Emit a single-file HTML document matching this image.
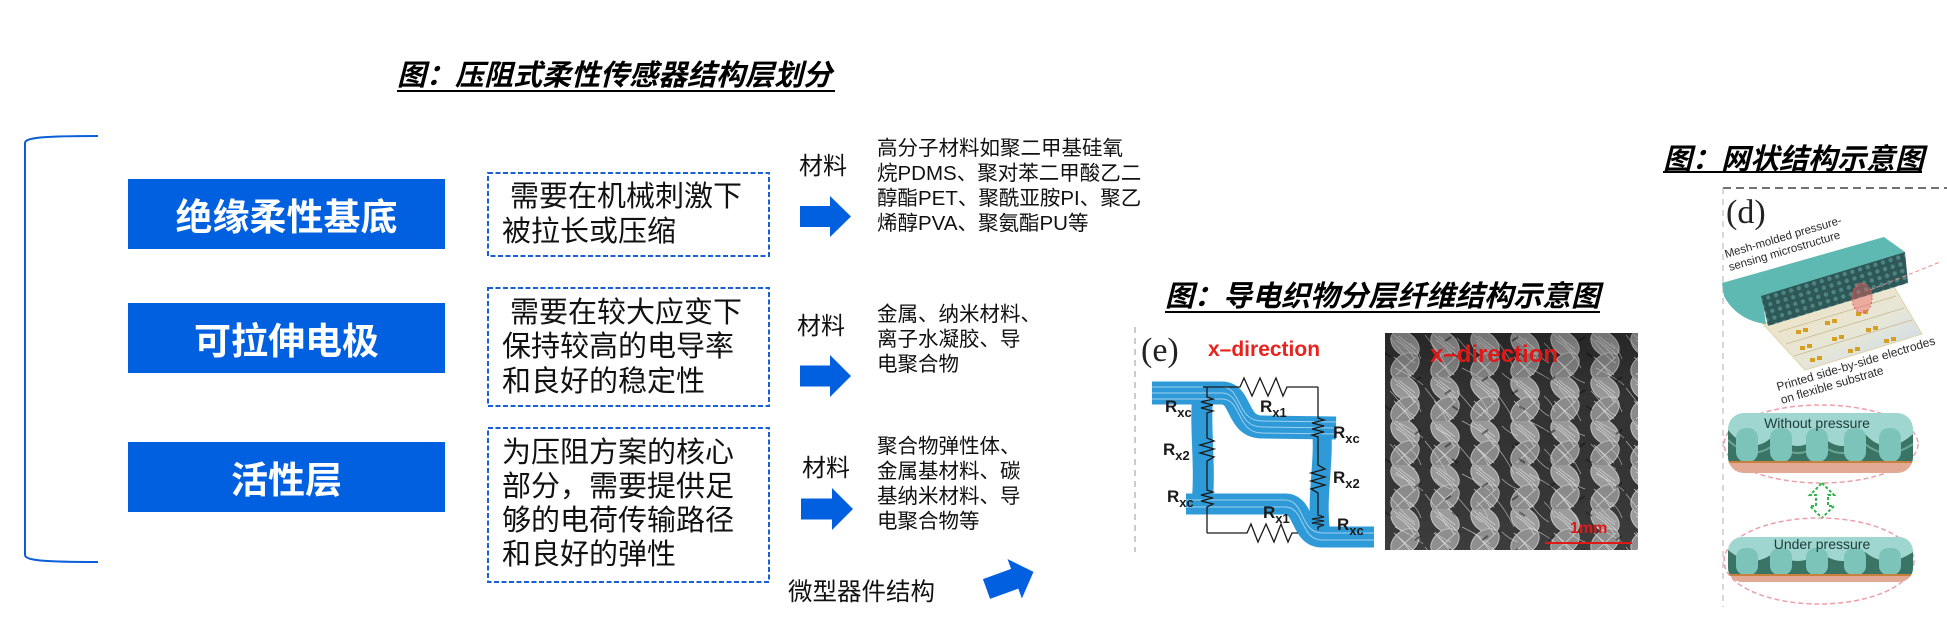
<!DOCTYPE html>
<html><head><meta charset="utf-8">
<style>
html,body{margin:0;padding:0;}
body{width:1947px;height:622px;overflow:hidden;background:#fff;position:relative;font-family:"Liberation Sans","Noto Sans CJK SC",sans-serif;}
.t{position:absolute;white-space:nowrap;font-family:"Liberation Sans","Noto Sans CJK SC",sans-serif;color:#111;}
.ttl{font-size:29px;line-height:29px;font-weight:bold;font-style:italic;color:#000;}
.ul{position:absolute;height:2px;background:#000;}
.bx{position:absolute;left:128px;width:317px;height:70px;background:#0060df;color:#fff;font-weight:bold;font-size:37px;display:flex;align-items:center;justify-content:center;font-family:"Liberation Sans","Noto Sans CJK SC",sans-serif;}
.d{font-size:29px;line-height:34px;}
.m{font-size:24px;line-height:26px;}
.mt{font-size:20.5px;line-height:25px;left:877px;}
</style></head><body>
<svg width="1947" height="622" style="position:absolute;left:0;top:0" xmlns="http://www.w3.org/2000/svg">
<defs>
<pattern id="sem" x="1385" y="333" width="40" height="44" patternUnits="userSpaceOnUse">
<rect width="40" height="44" fill="#333"/>
<ellipse cx="20" cy="11" rx="16" ry="11" transform="rotate(40 20 11)" fill="#9a9a9a" stroke="#c4c4c4" stroke-width="1"/>
<ellipse cx="20" cy="33" rx="16" ry="11" transform="rotate(-40 20 33)" fill="#8a8a8a" stroke="#bdbdbd" stroke-width="1"/>
<path d="M9,2 C16,8 24,14 31,21 M11,7 C18,12 24,16 29,25 M9,24 C16,30 22,36 29,42 M31,24 C24,30 18,36 11,42 M13,28 C18,32 22,38 26,43 M14,3 C20,9 26,12 30,16" stroke="#d6d6d6" stroke-width="0.8" fill="none"/>
</pattern>
<pattern id="fib" x="1385" y="333" width="67" height="53" patternUnits="userSpaceOnUse">
<path d="M5,5 C15,15 20,25 30,30 M40,2 C48,12 55,20 62,35 M10,35 C20,40 30,45 38,52 M50,40 C55,45 60,48 66,50 M25,10 C30,14 34,20 36,26" stroke="#e0e0e0" stroke-width="0.7" fill="none" opacity="0.7"/>
<path d="M0,20 L6,24 M60,8 L66,4 M30,48 L36,44" stroke="#111" stroke-width="2" opacity="0.5"/>
</pattern>
<linearGradient id="sub" x1="0" y1="0" x2="1" y2="1">
<stop offset="0" stop-color="#f2e2bd"/><stop offset="0.6" stop-color="#e6e6d8"/><stop offset="1" stop-color="#bcd8f2"/>
</linearGradient>
<linearGradient id="semfade" x1="0" y1="0" x2="0" y2="1">
<stop offset="0" stop-color="#000" stop-opacity="0.25"/><stop offset="0.3" stop-color="#000" stop-opacity="0"/><stop offset="1" stop-color="#fff" stop-opacity="0.05"/>
</linearGradient>
<pattern id="mesh" width="8" height="7" patternUnits="userSpaceOnUse" patternTransform="rotate(-17)">
<rect width="8" height="7" fill="#2d5857"/>
<circle cx="4" cy="3.5" r="2.2" fill="#4d8481"/>
</pattern>
<clipPath id="c1"><rect x="1728" y="413" width="185" height="60" rx="16"/></clipPath>
<clipPath id="c2"><rect x="1728" y="537" width="185" height="45" rx="14"/></clipPath>
</defs>

<!-- bracket -->
<path d="M98,136 C50,136 25,137 25,143 L25,555 C25,561 50,562 98,562" fill="none" stroke="#0a5fd8" stroke-width="2"/>

<!-- dashed boxes -->
<g fill="none" stroke="#1760d6" stroke-width="2" stroke-dasharray="5 2.5">
<rect x="488" y="173" width="281" height="83"/>
<rect x="488" y="288" width="281" height="118"/>
<rect x="488" y="428" width="281" height="154"/>
</g>

<!-- arrows -->
<g fill="#0060df">
<polygon points="800,206 830,206 830,196 851,216.5 830,237 830,227 800,227"/>
<polygon points="800,365.5 830,365.5 830,355 851,376 830,397 830,386.5 800,386.5"/>
<polygon points="801,498.5 832,498.5 832,488 853,509 832,530 832,519.5 801,519.5"/>
<polygon transform="translate(986.5,589) rotate(-20)" points="0,-10.5 30,-10.5 30,-21 50,0 30,21 30,10.5 0,10.5"/>
</g>

<!-- (e) panel -->
<line x1="1135" y1="327" x2="1135" y2="552" stroke="#9a9a9a" stroke-dasharray="6 5" stroke-width="1"/>
<g fill="none" stroke="#2e9ad8" stroke-linecap="butt">
<path d="M1152,393 L1222,393 C1242,393 1236,427 1262,427 L1336,428" stroke-width="23"/>
<path d="M1203,392 C1199,430 1207,470 1201,512" stroke-width="21"/>
<path d="M1186,504 L1285,504 C1305,504 1300,537 1322,537 L1374,537" stroke-width="21"/>
<path d="M1321,425 C1326,460 1314,500 1322,540" stroke-width="19"/>
</g>
<g fill="none" stroke="#9fd0ee" stroke-width="1">
<path d="M1152,387 L1222,387 C1242,387 1236,421 1262,421 L1336,422"/>
<path d="M1152,393 L1222,393 C1242,393 1236,427 1262,427 L1336,428"/>
<path d="M1152,399 L1222,399 C1242,399 1236,433 1262,433 L1336,434"/>
<path d="M1186,500 L1285,500 C1305,500 1300,533 1322,533 L1374,533"/>
<path d="M1186,507 L1285,507 C1305,507 1300,540 1322,540 L1374,540"/>
</g>
<g fill="none" stroke="#1a1a1a" stroke-width="1.3" stroke-linejoin="miter">
<path d="M1203,387 L1240,387 L1244,378 L1252,396 L1260,378 L1268,396 L1276,378 L1283,396 L1287,387 L1318,387"/>
<path d="M1207,533 L1247,533 L1251,524 L1258,542 L1266,524 L1274,542 L1281,524 L1288,542 L1292,533 L1298,533"/>
<path d="M1207,387 L1207,397 L1213,399 L1201,402 L1213,405 L1201,408 L1213,411 L1207,413 L1207,438 L1214,441 L1200,445 L1214,449 L1200,453 L1214,457 L1207,461 L1207,490 L1213,492 L1201,495 L1213,498 L1201,501 L1213,504 L1207,507 L1207,533"/>
<path d="M1318,387 L1318,418 L1324,420 L1312,423 L1324,426 L1312,429 L1324,432 L1312,435 L1318,437 L1318,465 L1325,469 L1311,473 L1325,477 L1311,481 L1325,485 L1311,489 L1318,493 L1318,515 L1324,517 L1312,519 L1324,521 L1312,523 L1324,525 L1318,527 L1318,530"/>
</g>
<g font-family="Liberation Sans, sans-serif" font-weight="bold" font-size="17" fill="#1a1a1a">
<text x="1165" y="412">R<tspan font-size="13" dy="5">xc</tspan></text>
<text x="1260" y="412">R<tspan font-size="13" dy="5">x1</tspan></text>
<text x="1333" y="438">R<tspan font-size="13" dy="5">xc</tspan></text>
<text x="1163" y="455">R<tspan font-size="13" dy="5">x2</tspan></text>
<text x="1333" y="483">R<tspan font-size="13" dy="5">x2</tspan></text>
<text x="1167" y="502">R<tspan font-size="13" dy="5">xc</tspan></text>
<text x="1263" y="518">R<tspan font-size="13" dy="5">x1</tspan></text>
<text x="1337" y="530">R<tspan font-size="13" dy="5">xc</tspan></text>
</g>
<text x="1141" y="361" font-family="Liberation Serif, serif" font-size="34" fill="#222">(e)</text>
<text x="1208" y="356" font-family="Liberation Sans, sans-serif" font-weight="bold" font-size="21" fill="#e8231f">x–direction</text>

<!-- SEM image -->
<rect x="1385" y="333" width="253" height="217" fill="url(#sem)"/>
<rect x="1385" y="333" width="253" height="217" fill="url(#fib)"/>
<rect x="1385" y="333" width="253" height="217" fill="url(#semfade)"/>
<text x="1430" y="362" font-family="Liberation Sans, sans-serif" font-weight="bold" font-size="24" fill="#e01818">x–direction</text>
<text x="1570" y="533" font-family="Liberation Sans, sans-serif" font-weight="bold" font-size="16" fill="#e01818">1mm</text>
<line x1="1545" y1="543" x2="1632" y2="543" stroke="#e01818" stroke-width="2"/>

<!-- (d) panel -->
<line x1="1723" y1="188" x2="1947" y2="188" stroke="#444" stroke-dasharray="8 5" stroke-width="1.5"/>
<line x1="1723" y1="188" x2="1723" y2="607" stroke="#b0b0b0" stroke-dasharray="6 5" stroke-width="1"/>
<text x="1726" y="223" font-family="Liberation Serif, serif" font-size="34" fill="#222">(d)</text>

<polygon points="1763,324 1893,285 1922,334 1805,370" fill="url(#sub)" stroke="#e3d2a8" stroke-width="1"/>
<g stroke="#c9b98f" stroke-width="0.8" fill="none">
<path d="M1778,332 L1896,296 M1786,344 L1904,308 M1794,356 L1912,320"/>
</g>
<g fill="#d4a020">
<rect x="1796" y="330" width="5" height="4"/><rect x="1803" y="328" width="5" height="4"/>
<rect x="1825" y="321" width="5" height="4"/><rect x="1832" y="319" width="5" height="4"/>
<rect x="1856" y="312" width="5" height="4"/><rect x="1863" y="310" width="5" height="4"/>
<rect x="1800" y="346" width="5" height="4"/><rect x="1807" y="344" width="5" height="4"/>
<rect x="1832" y="337" width="5" height="4"/><rect x="1839" y="335" width="5" height="4"/>
<rect x="1866" y="328" width="5" height="4"/><rect x="1873" y="326" width="5" height="4"/>
<rect x="1810" y="358" width="5" height="4"/><rect x="1817" y="356" width="5" height="4"/>
<rect x="1848" y="349" width="5" height="4"/><rect x="1855" y="347" width="5" height="4"/>
<rect x="1884" y="339" width="5" height="4"/><rect x="1891" y="337" width="5" height="4"/>
</g>
<path d="M1722,283 L1884,237 L1905,252 L1762,296 L1766,324 C1748,322 1732,312 1724,296 Z" fill="#5fb9b3"/>
<polygon points="1761,296 1905,252 1908,283 1768,326" fill="url(#mesh)"/>
<ellipse cx="1862" cy="298" rx="10" ry="15" fill="rgba(238,100,100,0.45)" stroke="#e05a5a" stroke-dasharray="2 2" stroke-width="1"/>
<line x1="1870" y1="290" x2="1940" y2="262" stroke="#e88a8a" stroke-dasharray="4 3" stroke-width="1"/>
<g font-family="Liberation Sans, sans-serif" fill="#2a2a2a">
<text font-size="11.5" transform="translate(1726,258) rotate(-16.5)">Mesh-molded pressure-</text>
<text font-size="11.5" transform="translate(1730,271) rotate(-16.5)">sensing microstructure</text>
<text font-size="12" transform="translate(1778,391) rotate(-16.5)">Printed side-by-side electrodes</text>
<text font-size="12" transform="translate(1782,404) rotate(-16.5)">on flexible substrate</text>
</g>

<!-- without pressure -->
<ellipse cx="1821" cy="444" rx="97" ry="39" fill="none" stroke="#ec9faa" stroke-dasharray="5 3" stroke-width="1.5"/>
<g clip-path="url(#c1)">
<rect x="1728" y="413" width="185" height="60" fill="#9fd6cf"/>
<path d="M1728,430 C1745,450 1760,450 1775,434 C1790,450 1805,450 1820,434 C1835,450 1850,450 1865,434 C1880,450 1895,450 1913,434 L1913,462 L1728,462 Z" fill="#3a7465"/>
<path d="M1728,440 C1745,456 1760,456 1775,444 C1790,456 1805,456 1820,444 C1835,456 1850,456 1865,444 C1880,456 1895,456 1913,444" fill="none" stroke="#6aa596" stroke-width="2"/>
<g fill="#7cc4ba">
<rect x="1736" y="428" width="22" height="34" rx="10"/>
<rect x="1770" y="428" width="22" height="34" rx="10"/>
<rect x="1806" y="428" width="22" height="34" rx="10"/>
<rect x="1844" y="428" width="22" height="34" rx="10"/>
<rect x="1879" y="428" width="22" height="34" rx="10"/>
</g>
<rect x="1728" y="462" width="185" height="11" fill="#e2aa94"/>
<rect x="1728" y="461" width="185" height="2" fill="#c8813c"/>
</g>
<text x="1817" y="428" text-anchor="middle" font-family="Liberation Sans, sans-serif" font-size="14" fill="#1d3b3a">Without pressure</text>

<!-- arrow green -->
<polygon points="1822,483 1834,495 1828,495 1828,506 1834,506 1822,518 1810,506 1816,506 1816,495 1810,495" fill="none" stroke="#2fb34a" stroke-width="2" stroke-dasharray="3 2"/>

<!-- under pressure -->
<ellipse cx="1819" cy="561" rx="95" ry="43" fill="none" stroke="#ec9faa" stroke-dasharray="5 3" stroke-width="1.5"/>
<g clip-path="url(#c2)">
<rect x="1728" y="537" width="185" height="45" fill="#9fd6cf"/>
<path d="M1728,550 C1745,564 1760,564 1775,552 C1790,564 1805,564 1820,552 C1835,564 1850,564 1865,552 C1880,564 1895,564 1913,552 L1913,575 L1728,575 Z" fill="#3a7465"/>
<g fill="#7cc4ba">
<rect x="1736" y="548" width="22" height="27" rx="9"/>
<rect x="1770" y="548" width="22" height="27" rx="9"/>
<rect x="1806" y="548" width="22" height="27" rx="9"/>
<rect x="1844" y="548" width="22" height="27" rx="9"/>
<rect x="1879" y="548" width="22" height="27" rx="9"/>
</g>
<rect x="1728" y="575" width="185" height="7" fill="#e2aa94"/>
<rect x="1728" y="574" width="185" height="2" fill="#c8813c"/>
</g>
<text x="1822" y="549" text-anchor="middle" font-family="Liberation Sans, sans-serif" font-size="14" fill="#1d3b3a">Under pressure</text>
</svg>

<!-- titles -->
<div class="t ttl" style="left:397px;top:62px;">图：压阻式柔性传感器结构层划分</div>
<div class="ul" style="left:397px;top:90px;width:438px;"></div>
<div class="t ttl" style="left:1165px;top:283px;">图：导电织物分层纤维结构示意图</div>
<div class="ul" style="left:1165px;top:311px;width:435px;"></div>
<div class="t ttl" style="left:1663px;top:146px;">图：网状结构示意图</div>
<div class="ul" style="left:1663px;top:171px;width:259px;"></div>

<!-- blue boxes -->
<div class="bx" style="top:179px;">绝缘柔性基底</div>
<div class="bx" style="top:303px;">可拉伸电极</div>
<div class="bx" style="top:442px;">活性层</div>

<!-- dashed box text -->
<div class="t d" style="left:510px;top:180px;">需要在机械刺激下</div>
<div class="t d" style="left:502px;top:215px;">被拉长或压缩</div>

<div class="t d" style="left:510px;top:296px;">需要在较大应变下</div>
<div class="t d" style="left:502px;top:330px;">保持较高的电导率</div>
<div class="t d" style="left:502px;top:365px;">和良好的稳定性</div>

<div class="t d" style="left:502px;top:436px;">为压阻方案的核心</div>
<div class="t d" style="left:502px;top:470px;">部分，需要提供足</div>
<div class="t d" style="left:502px;top:504px;">够的电荷传输路径</div>
<div class="t d" style="left:502px;top:538px;">和良好的弹性</div>

<!-- 材料 labels -->
<div class="t m" style="left:799px;top:154px;">材料</div>
<div class="t m" style="left:797px;top:314px;">材料</div>
<div class="t m" style="left:802px;top:456px;">材料</div>

<!-- material text -->
<div class="t mt" style="top:136px;">高分子材料如聚二甲基硅氧<br>烷PDMS、聚对苯二甲酸乙二<br>醇酯PET、聚酰亚胺PI、聚乙<br>烯醇PVA、聚氨酯PU等</div>
<div class="t mt" style="top:302px;">金属、纳米材料、<br>离子水凝胶、导<br>电聚合物</div>
<div class="t mt" style="top:434px;">聚合物弹性体、<br>金属基材料、碳<br>基纳米材料、导<br>电聚合物等</div>

<div class="t" style="left:788px;top:579px;font-size:24.5px;line-height:28px;">微型器件结构</div>
</body></html>
